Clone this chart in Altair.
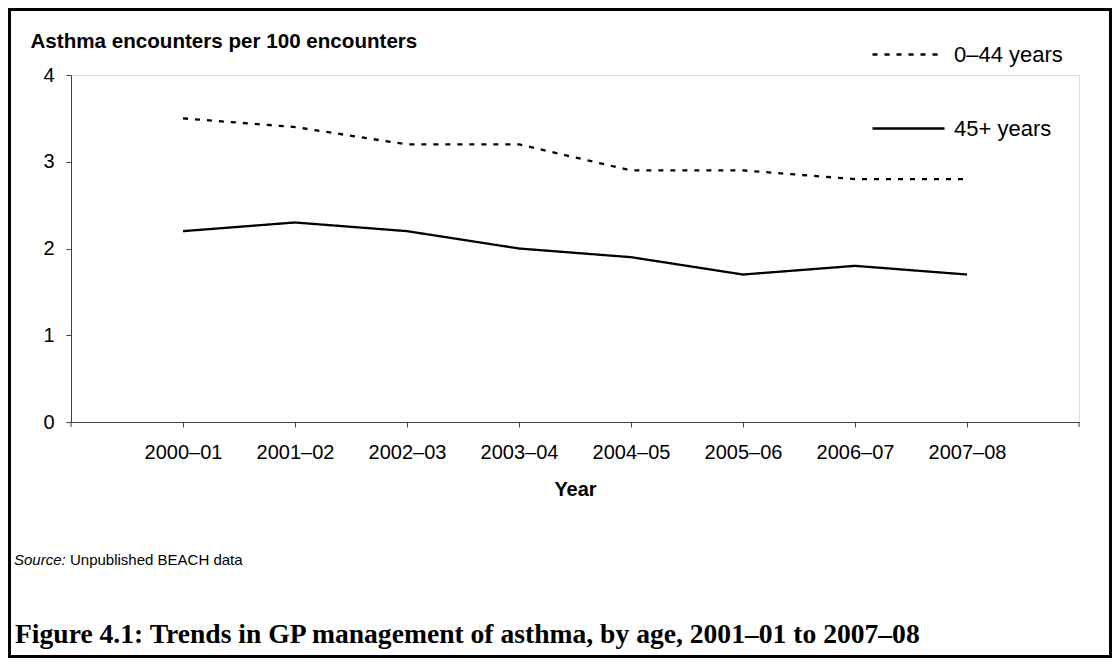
import altair as alt
import pandas as pd

years = ["2000–01", "2001–02", "2002–03", "2003–04", "2004–05", "2005–06", "2006–07", "2007–08"]
series_names = ["0–44 years", "45+ years"]
young = [3.5, 3.4, 3.2, 3.2, 2.9, 2.9, 2.8, 2.8]
older = [2.2, 2.3, 2.2, 2.0, 1.9, 1.7, 1.8, 1.7]
y_ticks = [0, 1, 2, 3, 4]

rows = []
for yr, v in zip(years, young):
    rows.append({"year": yr, "series": series_names[0], "value": v})
for yr, v in zip(years, older):
    rows.append({"year": yr, "series": series_names[1], "value": v})
df = pd.DataFrame(rows)

W, H = 1104, 650
PL, PT = 63, 67
PW, PH = 1008, 347
SANS = "Liberation Sans"
AX = "#404040"

lines = alt.Chart(df).mark_line(color="black", strokeWidth=2.3, strokeCap="butt").encode(
    x=alt.X("year:N", sort=years,
            scale=alt.Scale(type="point", padding=1),
            axis=alt.Axis(title="Year", labelAngle=0, labelFont=SANS, labelFontSize=20,
                          labelColor="black", labelPadding=15, tickSize=5, tickColor=AX,
                          domainColor=AX, titleFont=SANS, titleFontSize=20,
                          titleFontWeight="bold", titleColor="black",
                          titleBaseline="alphabetic", titleY=73, grid=False)),
    y=alt.Y("value:Q", scale=alt.Scale(domain=[0, 4], nice=False),
            axis=alt.Axis(values=y_ticks, format="d", labelFont=SANS, labelFontSize=20,
                          labelColor="black", labelPadding=12, tickSize=5, tickColor=AX,
                          domainColor=AX, grid=False,
                          title="Asthma encounters per 100 encounters",
                          titleAngle=0, titleAlign="left", titleBaseline="alphabetic",
                          titleX=-41, titleY=-28, titleFont=SANS, titleFontSize=20.6,
                          titleFontWeight="bold", titleColor="black")),
    strokeDash=alt.StrokeDash("series:N",
                              scale=alt.Scale(domain=series_names, range=[[5, 7], [1, 0]]),
                              legend=alt.Legend(title=None, orient="none", legendX=800, legendY=-58,
                                                symbolType="stroke", symbolSize=5184,
                                                symbolStrokeColor="black", symbolStrokeWidth=2.3,
                                                labelFont=SANS, labelFontSize=22, labelColor="black",
                                                labelOffset=8, rowPadding=25, padding=0)),
)

one = alt.Data(values=[{"k": 0}])

end_ticks = alt.Chart(alt.Data(values=[{"k": 0}, {"k": 1}])).mark_rule(color=AX, strokeWidth=1).encode(
    x=alt.X("k:Q", scale=alt.Scale(domain=[0, 1], range=[0, PW]), axis=None),
    y=alt.value(PH), y2=alt.value(PH + 5),
)

border = alt.Chart(one).mark_rect(fill="transparent", stroke="black", strokeWidth=3).encode(
    x=alt.value(-PL + 1.5), x2=alt.value(W - PL - 1.5),
    y=alt.value(-PT + 1.5), y2=alt.value(H - PT - 1.5),
)

src1 = alt.Chart(one).mark_text(text="Source:", font=SANS, fontSize=15, fontStyle="italic",
                                align="left", baseline="alphabetic", color="black").encode(
    x=alt.value(-57), y=alt.value(490))
src2 = alt.Chart(one).mark_text(text="Unpublished BEACH data", font=SANS, fontSize=15,
                                align="left", baseline="alphabetic", color="black").encode(
    x=alt.value(-57 + 56), y=alt.value(490))

caption = alt.Chart(one).mark_text(
    text="Figure 4.1: Trends in GP management of asthma, by age, 2001–01 to 2007–08",
    font="Liberation Serif", fontSize=27.6, fontWeight="bold", align="left",
    baseline="alphabetic", color="black").encode(x=alt.value(-56), y=alt.value(568))

chart = alt.layer(border, lines, end_ticks, src1, src2, caption).resolve_scale(x="independent").properties(
    width=PW, height=PH,
    autosize=alt.AutoSizeParams(type="none"),
    padding={"left": PL, "top": PT, "right": W - PL - PW, "bottom": H - PT - PH},
).configure_view(stroke=None).configure(background="white")

chart.save("out.html", embed_options={"renderer": "svg", "actions": False})
